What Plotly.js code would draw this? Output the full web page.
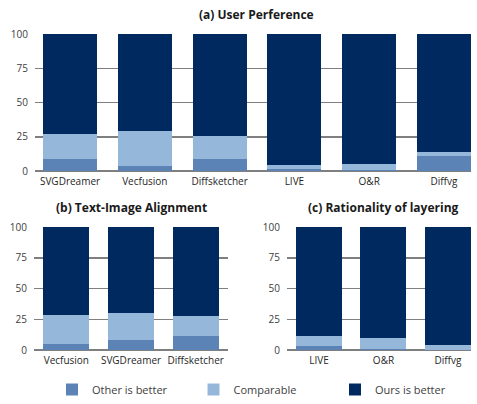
<!DOCTYPE html>
<html>
<head>
<meta charset="utf-8">
<script src="https://cdn.plot.ly/plotly-3.0.1.min.js"></script>
<style>html,body{margin:0;padding:0;background:#fff;}#chart{width:477px;height:404px;}</style>
</head>
<body>
<div id="chart"></div>
<script>
// Panel (a) User Perference
const catsA = ["SVGDreamer", "Vecfusion", "Diffsketcher", "LIVE", "O&R", "Diffvg"];
const otherA = [9, 4, 9, 1.5, 0.7, 11];
const compA = [18, 25, 16.5, 3, 4.3, 3];
const oursA = [73, 71, 74.5, 95.5, 95, 86];

// Panel (b) Text-Image Alignment
const catsB = ["Vecfusion", "SVGDreamer", "Diffsketcher"];
const otherB = [5, 8, 11.5];
const compB = [23.5, 22, 16];
const oursB = [71.5, 70, 72.5];

// Panel (c) Rationality of layering
const catsC = ["LIVE", "O&R", "Diffvg"];
const otherC = [3.3, 1, 0.3];
const compC = [8, 9, 3.7];
const oursC = [88.7, 90, 96];

const seriesNames = ["Other is better", "Comparable", "Ours is better"];
const colors = ["#5b83b5", "#95b8da", "#002a5f"];

const traces = [];
function addPanel(cats, vals, xa, ya, width, showLeg) {
  vals.forEach((v, i) => {
    traces.push({
      type: "bar", x: cats, y: v, name: seriesNames[i],
      marker: {color: colors[i], line: {width: 0}},
      width: width, xaxis: xa, yaxis: ya,
      legendgroup: seriesNames[i], showlegend: showLeg,
      hoverinfo: "skip"
    });
  });
}
addPanel(catsA, [otherA, compA, oursA], "x", "y", 0.722, true);
addPanel(catsB, [otherB, compB, oursB], "x2", "y2", 0.713, false);
addPanel(catsC, [otherC, compC, oursC], "x3", "y3", 0.713, false);

const W = 477, H = 404;
const fx = p => p / W, fy = p => (H - p) / H;

const yCommon = {
  range: [0, 100], tickvals: [0, 25, 50, 75, 100], showgrid: true,
  gridcolor: "#7f7f7f", gridwidth: 1.5, zeroline: true, zerolinecolor: "#7f7f7f", zerolinewidth: 1.5,
  showline: false, ticks: "", ticklabelstandoff: 6,
  tickfont: {family: "Open Sans", size: 10, color: "#404040"}, fixedrange: true
};
const xCommon = {
  showgrid: false, zeroline: false, showline: false, ticks: "", type: "category", tickangle: 0,
  tickfont: {family: "Open Sans", size: 10, color: "#262626"}, fixedrange: true, ticklabelstandoff: 3
};

const layout = {
  width: W, height: H,
  margin: {l: 0, r: 0, t: 0, b: 0},
  paper_bgcolor: "#fff", plot_bgcolor: "rgba(0,0,0,0)",
  barmode: "stack",
  font: {family: "Open Sans", color: "#262626"},
  xaxis: Object.assign({}, xCommon, {domain: [fx(35), fx(471)], range: [-0.468, 5.361], anchor: "y"}),
  yaxis: Object.assign({}, yCommon, {domain: [fy(171), fy(34)], anchor: "x"}),
  xaxis2: Object.assign({}, xCommon, {domain: [fx(34), fx(228)], range: [-0.5, 2.5], anchor: "y2"}),
  yaxis2: Object.assign({}, yCommon, {domain: [fy(350), fy(227)], anchor: "x2"}),
  xaxis3: Object.assign({}, xCommon, {domain: [fx(287), fx(471)], range: [-0.496, 2.357], anchor: "y3"}),
  yaxis3: Object.assign({}, yCommon, {domain: [fy(350), fy(227)], anchor: "x3"}),
  legend: {
    orientation: "h", x: fx(55), xanchor: "left", y: 0, yanchor: "bottom",
    font: {family: "Open Sans", size: 11, color: "#404040"},
    entrywidth: 96.5, traceorder: "normal", bgcolor: "rgba(0,0,0,0)"
  },
  annotations: [
    {text: "<b>(a) User Perference</b>", x: fx(256), y: fy(14), xref: "paper", yref: "paper", showarrow: false, xanchor: "center", yanchor: "middle", font: {family: "Open Sans", size: 12, color: "#1a1a1a"}},
    {text: "<b>(b) Text-Image Alignment</b>", x: fx(131), y: fy(207), xref: "paper", yref: "paper", showarrow: false, xanchor: "center", yanchor: "middle", font: {family: "Open Sans", size: 12, color: "#1a1a1a"}},
    {text: "<b>(c) Rationality of layering</b>", x: fx(383), y: fy(207), xref: "paper", yref: "paper", showarrow: false, xanchor: "center", yanchor: "middle", font: {family: "Open Sans", size: 12, color: "#1a1a1a"}}
  ]
};

Plotly.newPlot("chart", traces, layout, {displayModeBar: false, staticPlot: true});
</script>
</body>
</html>
